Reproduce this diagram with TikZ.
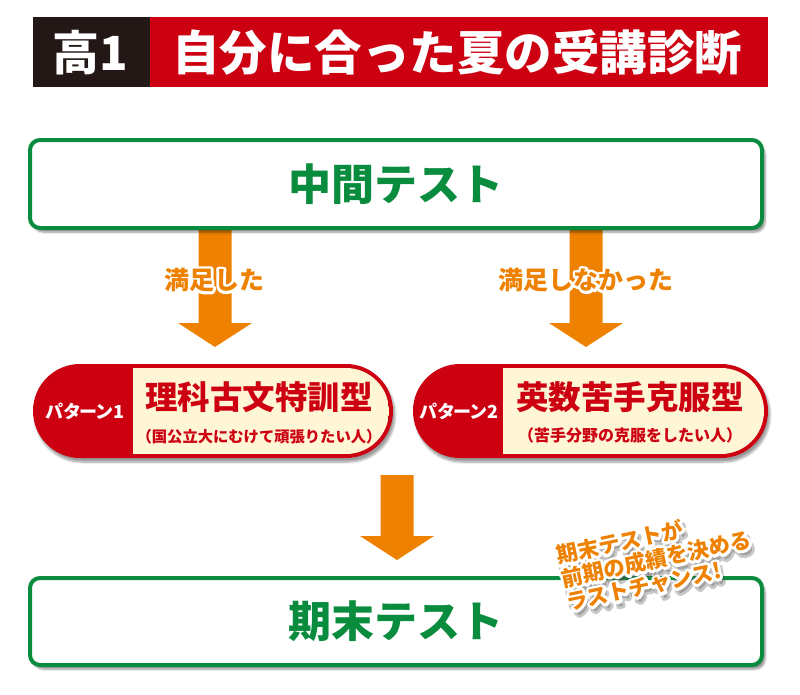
\documentclass[tikz,border=0pt]{standalone}
\usepackage{fontspec}
\setmainfont{Noto Sans CJK JP}
\usetikzlibrary{shadows.blur,calc}
\definecolor{jred}{RGB}{204,0,17}
\definecolor{jblack}{RGB}{35,24,21}
\definecolor{jgreen}{RGB}{10,140,62}
\definecolor{jorange}{RGB}{238,130,0}
\definecolor{jcream}{RGB}{255,246,214}
\newcommand\fsz[1]{\fontsize{#1}{#1}\selectfont\bfseries}
\newcommand\fszb[2]{\fontsize{#1}{#2}\selectfont\bfseries}
\newcommand\strk[1]{\special{pdf:literal direct 2 Tr 5.4 w 1 j}#1\special{pdf:literal direct 0 Tr 1 w 0 j}}
\newcommand\jarrow[2]{%
  \fill[jorange] ($(#1)+(-16.5,0)$) -- ($(#2)+(-16.5,-24)$) -- ($(#2)+(-37,-24)$) -- (#2)
    -- ($(#2)+(37,-24)$) -- ($(#2)+(16.5,-24)$) -- ($(#1)+(16.5,0)$) -- cycle;}
\newcommand\outlined[4]{%
  \node[#3, text=white] at (#2) {\strk{#4}};
  \node[#3] (#1) at (#2) {#4};}
\tikzset{
  frame/.style={draw=jgreen, line width=4pt, fill=white, rounded corners=10pt,
    blur shadow={shadow xshift=3pt, shadow yshift=-4pt, shadow blur steps=6, shadow opacity=45}},
  pillshadow/.style={blur shadow={shadow xshift=2pt, shadow yshift=-4pt, shadow blur steps=6, shadow opacity=40}},
  jtext/.style={inner sep=0pt, text=#1},
  patlab/.style={inner sep=0pt, text=white, font=\fsz{18}\addfontfeatures{RawFeature=+palt}},
  calltext/.style={inner sep=0pt, rotate=12, align=left, font=\fszb{21.5}{24}},
}
\begin{document}
\begin{tikzpicture}[x=1pt,y=-1pt]
\useasboundingbox (0,0) rectangle (800,694);
% title
\fill[jblack] (33,17) rectangle (150,87);
\fill[jred] (150,17) rectangle (768,87);
\node[jtext=white, font=\fsz{47}] (grade) at (90,53) {高1};
\node[jtext=white, font=\fsz{47.5}] (title) at (457,52) {自分に合った夏の受講診断};
% arrows (under boxes)
\coordinate (a1s) at (215,226); \coordinate (a1e) at (215,347);
\coordinate (a2s) at (586,226); \coordinate (a2e) at (586,347);
\coordinate (a3s) at (397,475); \coordinate (a3e) at (397,560);
\jarrow{a1s}{a1e}
\jarrow{a2s}{a2e}
\jarrow{a3s}{a3e}
% top box
\path[frame] (30,140) rectangle (762,228);
\node[jtext=jgreen, font=\fsz{43}] (mid) at (396,184) {中間テスト};
% labels
\outlined{l1}{214,280}{jtext=jorange, font=\fsz{25}}{満足した}
\outlined{l2}{586,280}{jtext=jorange, font=\fsz{25}}{満足しなかった}
% pill 1
\path[fill=jred, rounded corners=47pt, pillshadow] (33,364) rectangle (393,458);
\begin{scope}
  \clip[rounded corners=43pt] (37,368) rectangle (389,454);
  \fill[jcream] (133,368) rectangle (389,454);
\end{scope}
\node[patlab] (p1lab) at (85,411) {パターン1};
\node[jtext=jred, font=\fsz{32.5}] (p1title) at (259,397) {理科古文特訓型};
\node[jtext=jred, font=\fsz{15.3}] (p1sub) at (259,437) {（国公立大にむけて頑張りたい人）};
% pill 2
\path[fill=jred, rounded corners=47pt, pillshadow] (413,364) rectangle (768,458);
\begin{scope}
  \clip[rounded corners=43pt] (417,368) rectangle (764,454);
  \fill[jcream] (503,368) rectangle (764,454);
\end{scope}
\node[patlab] (p2lab) at (459,411) {パターン2};
\node[jtext=jred, font=\fsz{32.5}] (p2title) at (630,397) {英数苦手克服型};
\node[jtext=jred, font=\fsz{16}] (p2sub) at (630,435) {（苦手分野の克服をしたい人）};
% bottom box
\path[frame] (30,578) rectangle (762,665);
\node[jtext=jgreen, font=\fsz{43}] (end) at (396,621) {期末テスト};
% callout
\node[calltext, text=black!70, opacity=0.3] (callshadow) at (659,564) {\strk{期末テストが\\前期の成績を決める\\ラストチャンス!}};
\outlined{call}{656,559}{calltext, text=jorange}{期末テストが\\前期の成績を決める\\ラストチャンス!}
\end{tikzpicture}
\end{document}
